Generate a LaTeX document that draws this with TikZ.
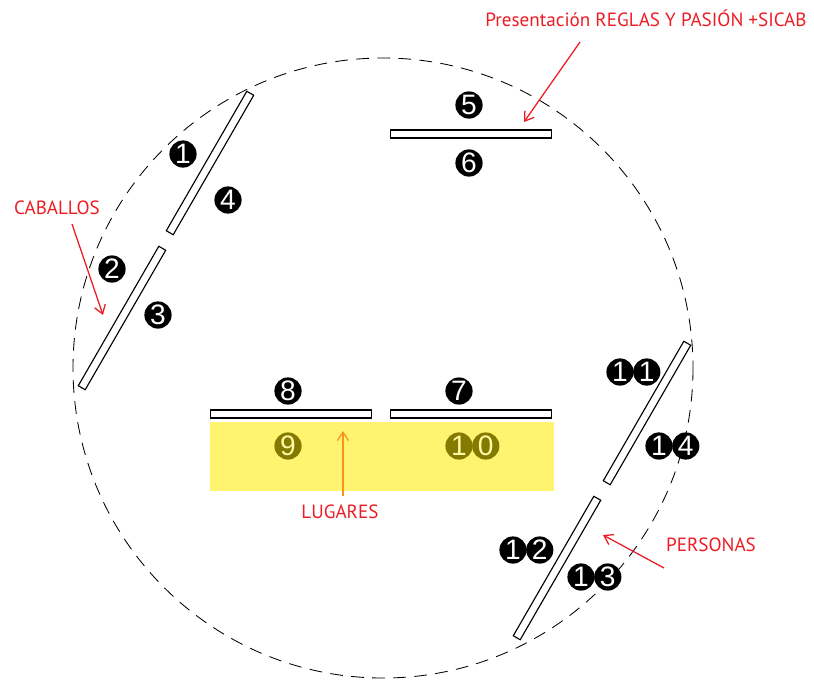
\documentclass[tikz,border=0pt]{standalone}
\usepackage{fontspec}
\usepackage{xcolor}
\usepackage{tikz}
\usetikzlibrary{positioning,arrows.meta}
\newfontfamily\labelfont{PT Sans}
\newfontfamily\numfont{Liberation Sans}
\definecolor{rojo}{RGB}{237,28,36}
\definecolor{naranja}{RGB}{247,148,29}
\definecolor{amarillo}{RGB}{255,243,112}
\definecolor{oliva}{RGB}{133,122,0}
\definecolor{amarilloclaro}{RGB}{255,248,165}

\begin{document}
\begin{tikzpicture}[x=0.025cm,y=-0.025cm,
	valla/.style={draw,line width=0.8pt,fill=white,minimum width=4.025cm,minimum height=0.2cm,inner sep=0pt},
	num/.style={circle,fill=black,text=white,inner sep=0pt,minimum size=0.68cm,font=\numfont\fontsize{20}{20}\selectfont},
	numoff/.style={num,fill=oliva,text=amarilloclaro},
	etiq/.style={text=rojo,font=\labelfont\fontsize{13.6}{15}\selectfont},
	flecha/.style={rojo,line width=0.9pt,-{Straight Barb[length=6pt,width=8pt]}}]
				\useasboundingbox (0,0) rectangle (814,680);
				
				\coordinate (c1) at (580,42);%presentacion
				\coordinate (c2) at (524,122);
				\coordinate (c3) at (72,224);%caballos
				\coordinate (c4) at (103,315);
				\coordinate (c5) at (343,496);%lugares
				\coordinate (c6) at (343,431);
				\coordinate (c7) at (664,568);%personas
				\coordinate (c8) at (603,535);
				
				\draw[dash pattern=on 9pt off 6pt,line width=0.6pt] (383,368) circle (310);
				\fill[amarillo] (210,422) rectangle (554,491);
				
				\node[valla,rotate=60] (v1) at (210,163) {};%1-4
				\node[valla,rotate=60] (v2) at (122,318) {};%2-3
				\node[valla] (v3) at (471,134) {};%5-6
				\node[valla] (v4) at (291,414) {};%8-9
				\node[valla] (v5) at (471,414) {};%7-10
				\node[valla,rotate=60] (v6) at (647,413) {};%11-14
				\node[valla,rotate=60] (v7) at (557,568) {};%12-13
				
				\node[num] (n1) at (183,154) {1};
				\node[num] (n2) at (112,269) {2};
				\node[num] (n3) at (158,315) {3};
				\node[num] (n4) at (228,200) {4};
				\node[num] (n5) at (469,105) {5};
				\node[num] (n6) at (469,163) {6};
				\node[num] (n7) at (459,391) {7};
				\node[num] (n8) at (288,391) {8};
				\node[numoff] (n9) at (288,446) {9};
				\node[numoff] (n10a) at (459,446) {1};
				\node[numoff,right=-0.025cm of n10a] (n10b) {0};
				\node[num] (n11a) at (620,372) {1};
				\node[num,right=-0.025cm of n11a] (n11b) {1};
				\node[num] (n12a) at (513,550) {1};
				\node[num,right=-0.025cm of n12a] (n12b) {2};
				\node[num] (n13a) at (581,577) {1};
				\node[num,right=-0.025cm of n13a] (n13b) {3};
				\node[num] (n14a) at (659,446) {1};
				\node[num,right=-0.025cm of n14a] (n14b) {4};
				
				\node[etiq] (pres) at (646,18) {Presentación REGLAS Y PASIÓN +SICAB};
				\node[etiq] (cab) at (57,208) {CABALLOS};
				\node[etiq] (lug) at (340,512) {LUGARES};
				\node[etiq] (pers) at (711,545) {PERSONAS};
				
				\draw[flecha] (c1) to[] (c2);
				\draw[flecha] (c3) to[] (c4);
				\draw[flecha,naranja] (c5) to[] (c6);
				\draw[flecha] (c7) to[] (c8);
\end{tikzpicture}
\end{document}
